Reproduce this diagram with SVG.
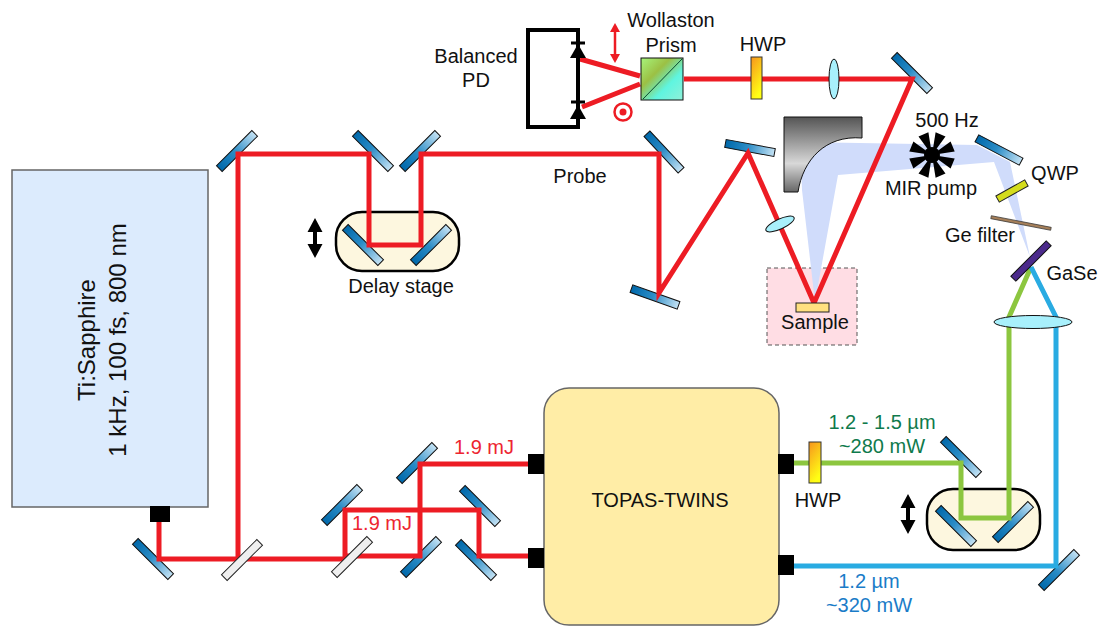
<svg xmlns="http://www.w3.org/2000/svg" width="1099" height="628" viewBox="0 0 1099 628">
<style>
text{font-family:"Liberation Sans",Arial,sans-serif;font-size:20px;fill:#111;text-anchor:middle}
.r{fill:none;stroke:#ed1c24;stroke-width:5}
.g{fill:none;stroke:#8cc63f;stroke-width:5}
.b{fill:none;stroke:#29abe2;stroke-width:5}
.port{fill:#000}
.stage{fill:#fdf7df;stroke:#000;stroke-width:2.5}
.red{fill:#ed2530}.grn{fill:#0f7a4c}.blu{fill:#1a7cc8}
.lens{fill:#a8f0fc;stroke:#111;stroke-width:1}
.hwp{fill:url(#hg);stroke:#333;stroke-width:1}
</style>
<defs>
<linearGradient id="mg" x1="0" x2="1" y1="0" y2="0"><stop offset="0" stop-color="#0068aa"/><stop offset="0.45" stop-color="#2a8cc6"/><stop offset="1" stop-color="#c4e2f4"/></linearGradient>
<linearGradient id="hg" x1="0" x2="0.4" y1="0" y2="1"><stop offset="0" stop-color="#f7941d"/><stop offset="1" stop-color="#ffff14"/></linearGradient>
<linearGradient id="pg" x1="0" x2="1" y1="0" y2="1"><stop offset="0" stop-color="#a6f57c"/><stop offset="0.35" stop-color="#9cc044"/><stop offset="0.65" stop-color="#5ff5e0"/><stop offset="1" stop-color="#90f0d8"/></linearGradient>
<linearGradient id="og" x1="0" x2="0" y1="0" y2="1"><stop offset="0" stop-color="#555"/><stop offset="0.62" stop-color="#d8d8d8"/><stop offset="1" stop-color="#666"/></linearGradient>
<rect id="m" x="-25" y="-4" width="50" height="8" fill="url(#mg)" stroke="#111" stroke-width="1"/>
<rect id="bs" x="-25" y="-4" width="50" height="8" fill="#efefef" stroke="#222" stroke-width="1"/>
<polygon id="dbl" points="0,-20 7.500,-6 2,-6 2,6 7.500,6 0,20 -7.500,6 -2,6 -2,-6 -7.500,-6" fill="#000"/>
<polygon id="w" points="0,0 3.600,-22.700 13.500,-18.600" fill="#000"/>
</defs>
<g id="ti-sapphire"><rect x="12" y="170" width="196" height="337" fill="#dcebfd" stroke="#666" stroke-width="1.5"/>
<text transform="translate(95,340) rotate(-90)" style="font-size:24px">Ti:Sapphire</text>
<text transform="translate(126,340) rotate(-90)" style="font-size:24px">1 kHz, 100 fs, 800 nm</text>
<rect class="port" x="150" y="506" width="20" height="16"/></g>
<g id="topas"><rect x="544" y="388" width="235" height="237" rx="25" fill="#ffeda6" stroke="#666" stroke-width="1.5"/>
<text x="660" y="507">TOPAS-TWINS</text>
<rect class="port" x="528" y="454" width="16" height="20"/><rect class="port" x="528" y="548" width="16" height="20"/>
<rect class="port" x="778" y="454" width="16" height="20"/><rect class="port" x="778" y="555" width="16" height="20"/></g>
<g id="delay-stage-1"><rect class="stage" x="336" y="212" width="123" height="59" rx="26"/><use href="#dbl" x="315" y="238"/><text x="401" y="293">Delay stage</text></g>
<g id="delay-stage-2"><rect class="stage" x="927" y="489" width="113" height="61" rx="26"/><use href="#dbl" x="908" y="514"/></g>
<g id="sample-box"><rect x="767" y="268" width="90" height="77" fill="#ffdde4" stroke="#555" stroke-width="1" stroke-dasharray="4 3"/></g>
<polygon id="mir-beam" points="800,142 977,145 1010,162 1030,257 994,162 838,175 815,302 802,190" fill="#d0dcfb"/>
<g id="mirrors">
<use href="#m" transform="translate(237,151) rotate(-45)"/>
<use href="#m" transform="translate(373,151) rotate(45)"/>
<use href="#m" transform="translate(420,151) rotate(-45)"/>
<use href="#m" transform="translate(363,245) rotate(45)"/>
<use href="#m" transform="translate(431,245) rotate(-45)"/>
<use href="#m" transform="translate(664,152) rotate(47)"/>
<use href="#m" transform="translate(655,297) rotate(19.5)"/>
<use href="#m" transform="translate(750,148) rotate(10.5)"/>
<use href="#m" transform="translate(912,73) rotate(45)"/>
<use href="#m" transform="translate(999,150) rotate(27.8)"/>
<use href="#m" transform="translate(153,559) rotate(45)"/>
<use href="#m" transform="translate(342,505) rotate(-45)"/>
<use href="#m" transform="translate(417,463) rotate(-45)"/>
<use href="#m" transform="translate(480,506) rotate(45)"/>
<use href="#m" transform="translate(421,557) rotate(-45)"/>
<use href="#m" transform="translate(476,560) rotate(45)"/>
<use href="#m" transform="translate(961,457) rotate(45)"/>
<use href="#m" transform="translate(956,526) rotate(45)"/>
<use href="#m" transform="translate(1013,522) rotate(-45)"/>
<use href="#m" transform="translate(1059,570) rotate(-45)"/>
</g>
<g id="connectors">
<path class="r" d="M159 522V559H345"/>
<path class="r" d="M238 559V154H369V245H421V154H659V293L748 153L814 303L912 79H684"/>
<path class="r" d="M345 559V510H479V556H528"/>
<path class="r" d="M345 556H420V464H528"/>
<path class="r" d="M640 76L580 59M640 84L582 107"/>
<path class="g" d="M794 463H961V518H1009V317L1031 267"/>
<path class="b" d="M794 566H1056V317L1031 267"/>
</g>
<g id="beam-splitters">
<use href="#bs" transform="translate(242,560) rotate(-45)"/>
<use href="#bs" transform="translate(352,557) rotate(-45)"/>
</g>
<g id="balanced-pd">
<path d="M578 30H528V127H578Z" fill="none" stroke="#000" stroke-width="4"/>
<path d="M571 43H585M571 102H585" stroke="#000" stroke-width="3" fill="none"/>
<polygon points="578,44 586,58 570,58" fill="#000"/><polygon points="578,105 586,119 570,119" fill="#000"/>
<text x="476" y="63">Balanced</text><text x="476" y="87">PD</text></g>
<g id="wollaston"><rect x="641" y="58" width="42" height="42" fill="url(#pg)" stroke="#111" stroke-width="1"/><path d="M643 99L682 59" stroke="#0a4a30" stroke-width="1"/>
<text x="671" y="27">Wollaston</text><text x="671" y="52">Prism</text></g>
<g id="pol-arrow"><path d="M615 28V58" stroke="#ed1c24" stroke-width="2.500"/><polygon points="615,23 620,32 610,32" fill="#ed1c24"/><polygon points="615,63 620,54 610,54" fill="#ed1c24"/></g>
<g id="pol-dot"><circle cx="623" cy="112" r="8.500" fill="#fff" stroke="#ed1c24" stroke-width="2.500"/><circle cx="623" cy="112" r="3.500" fill="#ed1c24"/></g>
<g id="hwp-1"><rect class="hwp" x="751" y="57" width="11" height="42"/><text x="763" y="51">HWP</text></g>
<g id="lens-1"><ellipse class="lens" cx="834" cy="79" rx="5" ry="20"/></g>
<g id="lens-2"><ellipse class="lens" cx="780" cy="224" rx="15.500" ry="5" transform="rotate(-25 780 224)"/></g>
<g id="lens-3"><ellipse class="lens" cx="1033" cy="322" rx="39" ry="6.500"/></g>
<g id="parabola"><path d="M784 117H862V138C825 135 803 160 798 192H784Z" fill="url(#og)" stroke="#111" stroke-width="1"/></g>
<g id="chopper"><circle cx="932" cy="155" r="8" fill="#000"/>
<use href="#w" transform="translate(932,155)"/><use href="#w" transform="translate(932,155) rotate(45)"/><use href="#w" transform="translate(932,155) rotate(90)"/><use href="#w" transform="translate(932,155) rotate(135)"/><use href="#w" transform="translate(932,155) rotate(180)"/><use href="#w" transform="translate(932,155) rotate(225)"/><use href="#w" transform="translate(932,155) rotate(270)"/><use href="#w" transform="translate(932,155) rotate(315)"/>
<text x="947" y="127">500 Hz</text><text x="931" y="195">MIR pump</text></g>
<g id="qwp"><rect x="-16.500" y="-3.500" width="33" height="7" fill="#d4dc1c" stroke="#222" stroke-width="1" transform="translate(1012,191) rotate(-29)"/><text x="1055" y="180">QWP</text></g>
<g id="ge-filter"><rect x="-30.500" y="-1.500" width="61" height="3" fill="#a6805a" stroke="#333" stroke-width="0.700" transform="translate(1021,223) rotate(11)"/><text x="980" y="242">Ge filter</text></g>
<g id="gase"><rect x="-25" y="-3.500" width="50" height="7" fill="#4b2a8b" stroke="#111" stroke-width="1" transform="translate(1031,261) rotate(-45)"/><text x="1072" y="280">GaSe</text></g>
<g id="sample"><rect x="796" y="303" width="33" height="9" fill="#ffe080" stroke="#222" stroke-width="1"/><text x="815" y="329">Sample</text></g>
<g id="hwp-2"><rect class="hwp" x="809" y="442" width="12" height="41"/><text x="818" y="507">HWP</text></g>
<g id="labels">
<text x="580" y="183">Probe</text>
<text class="red" x="484" y="454">1.9 mJ</text>
<text class="red" x="382" y="530">1.9 mJ</text>
<text class="grn" x="882" y="429">1.2 - 1.5 µm</text>
<text class="grn" x="882" y="453">~280 mW</text>
<text class="blu" x="869" y="588">1.2 µm</text>
<text class="blu" x="869" y="612">~320 mW</text>
</g>
</svg>
